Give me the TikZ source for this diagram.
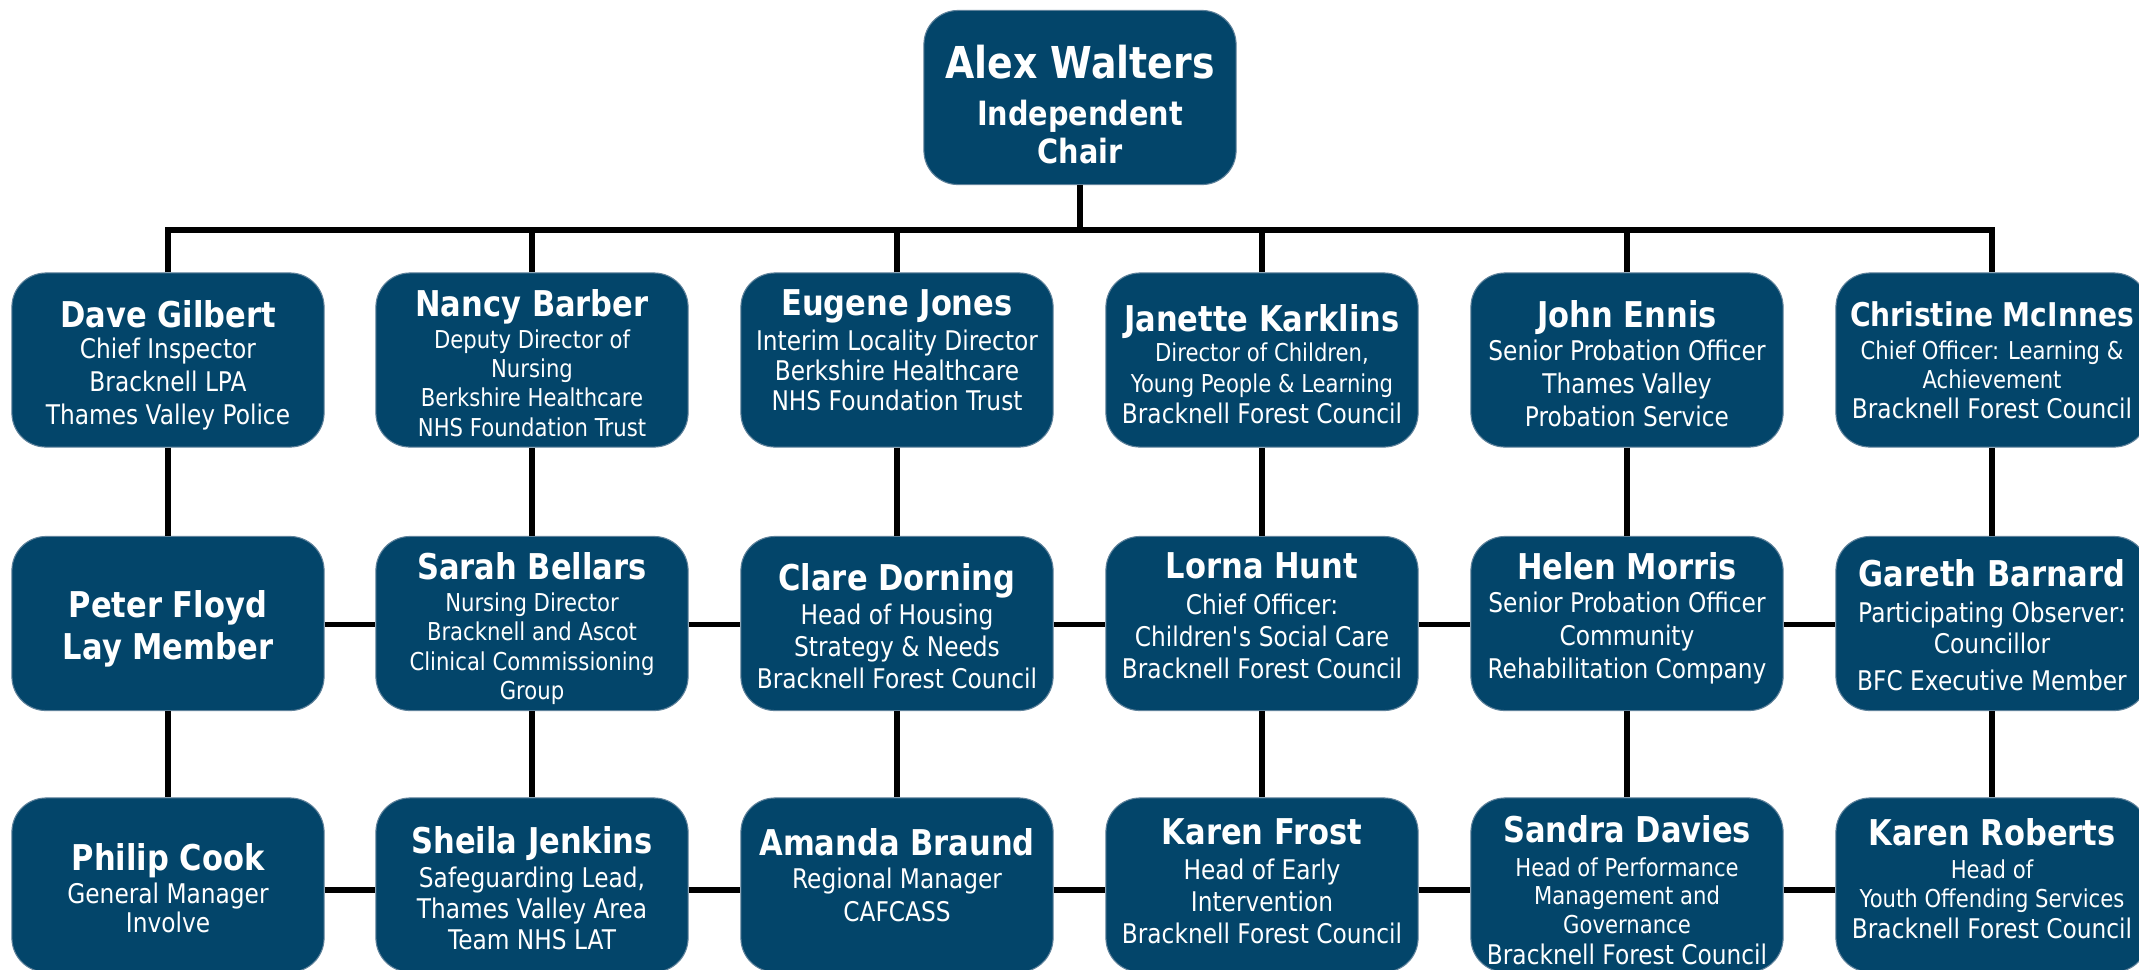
\documentclass[tikz,border=0pt]{standalone}
\usepackage{fontspec}
\setmainfont{DejaVu Sans}[FakeStretch=0.86]
\definecolor{boxblue}{RGB}{3,69,106}
\definecolor{boxedge}{RGB}{95,130,155}
\tikzset{
  orgbox/.style={rectangle, rounded corners=0.34cm, minimum width=3.12cm, minimum height=1.74cm,
                 fill=boxblue, draw=boxedge, line width=0.3pt, inner sep=0pt},
  txt/.style={text=white, align=center, inner sep=0pt, anchor=north},
  fn/.style={font=\fontsize{7.7}{#1}\selectfont},
  fs/.style={font=\fontsize{7}{#1}\selectfont},
  link/.style={line width=0.058cm, draw=black},
}
\newcommand\nm[1]{{\fontsize{10.1}{12}\selectfont\bfseries #1}}
\newcommand\sm[1]{{\fontsize{7}{8.5}\selectfont #1}}
\begin{document}
\begin{tikzpicture}[x=0.01cm,y=-0.01cm]
\useasboundingbox (0,0) rectangle (2139,969);
\clip (0,0) rectangle (2139,969);
% boxes
\node[orgbox] (chair) at (1080,97.5) {};
\foreach \n/\x in {dave/168,nancy/532,eugene/897,janette/1262,john/1627,christine/1992}
  \node[orgbox] (\n) at (\x,360) {};
\foreach \n/\x in {peter/168,sarah/532,clare/897,lorna/1262,helen/1627,gareth/1992}
  \node[orgbox] (\n) at (\x,623.5) {};
\foreach \n/\x in {philip/168,sheila/532,amanda/897,karenf/1262,sandra/1627,karenr/1992}
  \node[orgbox] (\n) at (\x,885) {};
% texts
\node[txt, font=\fontsize{9.5}{10.8}\selectfont\bfseries] (chairT) at ([yshift=-0.34cm]chair.north)
  {{\fontsize{12.5}{14}\selectfont Alex Walters}\\[2.6pt] Independent\\ Chair};
% row 1
\node[txt, fn=9.4pt] (daveT) at ([yshift=-0.27cm]dave.north)
  {\nm{Dave Gilbert}\\[-0.4pt] Chief Inspector\\ Bracknell LPA\\ Thames Valley Police};
\node[txt, fs=8.3pt] (nancyT) at ([yshift=-0.16cm]nancy.north)
  {\nm{Nancy Barber}\\[0.9pt] Deputy Director of\\ Nursing\\ Berkshire Healthcare\\ NHS Foundation Trust};
\node[txt, fn=8.5pt] (eugeneT) at ([yshift=-0.16cm]eugene.north)
  {\nm{Eugene Jones}\\[1.6pt] Interim Locality Director\\ Berkshire Healthcare\\ NHS Foundation Trust};
\node[txt, fn=8.8pt] (janetteT) at ([yshift=-0.31cm]janette.north)
  {\nm{Janette Karklins}\\[-0.2pt] \sm{Director of Children,}\\ \sm{Young People \& Learning}\\ Bracknell Forest Council};
\node[txt, fn=9.4pt] (johnT) at ([yshift=-0.27cm]john.north)
  {\nm{John Ennis}\\[0.1pt] Senior Probation Officer\\ Thames Valley\\ Probation Service};
\node[txt, fn=8.5pt] (christineT) at ([yshift=-0.29cm]christine.north)
  {{\fontsize{9.3}{12}\selectfont\bfseries Christine McInnes}\\[0.6pt] \sm{Chief Officer: Learning \&}\\ \sm{Achievement}\\ Bracknell Forest Council};
% row 2
\node[txt, fn=12pt] (peterT) at ([yshift=-0.54cm]peter.north)
  {\nm{Peter Floyd}\\ \nm{Lay Member}};
\node[txt, fs=8.4pt] (sarahT) at ([yshift=-0.16cm]sarah.north)
  {\nm{Sarah Bellars}\\[0.6pt] Nursing Director\\ Bracknell and Ascot\\ Clinical Commissioning\\ Group};
\node[txt, fn=9.1pt] (clareT) at ([yshift=-0.27cm]clare.north)
  {\nm{Clare Dorning}\\[0.4pt] Head of Housing\\ Strategy \& Needs\\ Bracknell Forest Council};
\node[txt, fn=9.1pt] (lornaT) at ([yshift=-0.16cm]lorna.north)
  {\nm{Lorna Hunt}\\[1.1pt] Chief Officer:\\ Children\textquotesingle s Social Care\\ Bracknell Forest Council};
\node[txt, fn=9.3pt] (helenT) at ([yshift=-0.16cm]helen.north)
  {\nm{Helen Morris}\\[0.1pt] Senior Probation Officer\\ Community\\ Rehabilitation Company};
\node[txt, fn=8.8pt] (garethT) at ([yshift=-0.23cm]gareth.north)
  {\nm{Gareth Barnard}\\[1.3pt] Participating Observer:\\ Councillor\\[1.7pt] BFC Executive Member};
% row 3
\node[txt, fn=8.3pt] (philipT) at ([yshift=-0.45cm]philip.north)
  {\nm{Philip Cook}\\[1.2pt] General Manager\\ Involve};
\node[txt, fn=8.8pt] (sheilaT) at ([yshift=-0.28cm]sheila.north)
  {\nm{Sheila Jenkins}\\[1.1pt] Safeguarding Lead,\\ Thames Valley Area\\ Team NHS LAT};
\node[txt, fn=9.4pt] (amandaT) at ([yshift=-0.30cm]amanda.north)
  {\nm{Amanda Braund}\\[0.1pt] Regional Manager\\ CAFCASS};
\node[txt, fn=9.1pt] (karenfT) at ([yshift=-0.20cm]karenf.north)
  {\nm{Karen Frost}\\[1.1pt] Head of Early\\ Intervention\\ Bracknell Forest Council};
\node[txt, fn=8.1pt] (sandraT) at ([yshift=-0.17cm]sandra.north)
  {\nm{Sandra Davies}\\[1.6pt] \sm{Head of Performance}\\ \sm{Management and}\\ \sm{Governance}\\[0.8pt] Bracknell Forest Council};
\node[txt, fn=8.3pt] (karenrT) at ([yshift=-0.20cm]karenr.north)
  {\nm{Karen Roberts}\\[1.1pt] \sm{Head of}\\ \sm{Youth Offending Services}\\[0.5pt] Bracknell Forest Council};
% connectors
\coordinate (bus) at (1080,230);
\draw[link] (chair.south) -- (bus);
\foreach \n in {dave,nancy,eugene,janette,john,christine}
  \draw[link] (\n.north) |- (bus);
\foreach \a/\b in {dave/peter,nancy/sarah,eugene/clare,janette/lorna,john/helen,christine/gareth,
                   peter/philip,sarah/sheila,clare/amanda,lorna/karenf,helen/sandra,gareth/karenr}
  \draw[link] (\a) -- (\b);
\foreach \a/\b in {peter/sarah,sarah/clare,clare/lorna,lorna/helen,helen/gareth}
  \draw[link] ([yshift=-0.01cm]\a.east) -- ([yshift=-0.01cm]\b.west);
\foreach \a/\b in {philip/sheila,sheila/amanda,amanda/karenf,karenf/sandra,sandra/karenr}
  \draw[link] ([yshift=-0.05cm]\a.east) -- ([yshift=-0.05cm]\b.west);
\end{tikzpicture}
\end{document}
